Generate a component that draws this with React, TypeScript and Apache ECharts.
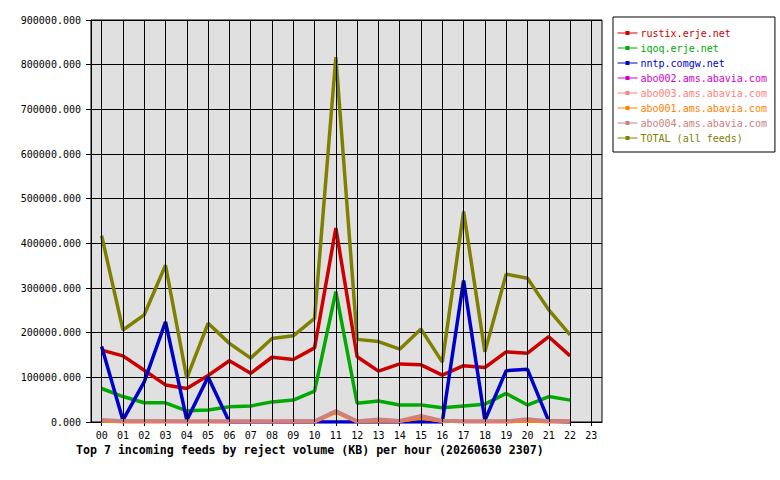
import React, { useEffect, useRef } from "react";
import * as echarts from "echarts";

const hours = ["00","01","02","03","04","05","06","07","08","09","10","11","12","13","14","15","16","17","18","19","20","21","22","23"];

const rustix = [161000,148000,116000,83000,75000,104000,137000,109000,145000,140000,166000,434000,146000,114000,130000,128000,105000,126000,122000,157000,154000,191000,148000];
const iqoq = [75000,57000,43000,43000,25000,27000,34000,36000,45000,49000,69000,292000,42000,47000,38000,38000,32000,36000,40000,64000,38000,57000,49000];
const nntp = [169000,4000,90000,224000,4000,101000,0,0,0,0,0,0,0,0,0,0,0,317000,4000,115000,118000,2000,0];
const abo002 = [3000,1000,1000,1000,1000,1000,1000,1000,1000,1000,1000,23000,1000,3000,2000,9000,2000,1000,1000,1000,2000,1000,1000];
const abo003 = [3000,1000,1000,1000,1000,1000,1000,1000,1000,1000,1000,24000,1000,4000,2000,10000,2000,1000,1000,1000,2000,1000,1000];
const abo001 = [2000,1000,1000,1000,1000,1000,1000,1000,1000,1000,1000,22000,1000,3000,2000,9000,2000,1000,1000,1000,3000,1000,1000];
const abo004 = [5000,2000,2000,2000,1000,1500,1000,1500,1000,2000,2000,25000,2000,6000,3000,14000,3000,1500,1500,2000,7000,2500,2500];
const total = [417000,206000,240000,351000,98000,221000,176000,143000,187000,193000,232000,817000,185000,180000,163000,208000,134000,471000,157000,331000,322000,251000,195000];

const names = ["rustix.erje.net","iqoq.erje.net","nntp.comgw.net","abo002.ams.abavia.com","abo003.ams.abavia.com","abo001.ams.abavia.com","abo004.ams.abavia.com","TOTAL (all feeds)"];
const colors = ["#cc0000","#00aa00","#0000cc","#cc00cc","#ff8080","#ff8000","#cc8080","#808000"];
const values = [rustix, iqoq, nntp, abo002, abo003, abo001, abo004, total];

const yTicks = { min: 0, max: 900000, interval: 100000 };
const MONO = "DejaVu Sans Mono";

export default function App() {
  const ref = useRef<HTMLDivElement>(null);
  useEffect(() => {
    const chart = echarts.init(ref.current!, null, { renderer: "svg" });
    const series: any[] = values.map((d, i) => ({
      name: names[i],
      type: "line",
      data: d,
      symbol: "rect",
      showSymbol: false,
      z: 3,
      color: colors[i],
      lineStyle: { width: 3.5, color: colors[i] },
      emphasis: { disabled: true },
    }));
    series.unshift({
      name: "grid",
      type: "line",
      data: [],
      z: 1,
      silent: true,
      markLine: {
        silent: true,
        symbol: "none",
        animation: false,
        label: { show: false },
        lineStyle: { color: "#000", width: 1, type: "solid" },
        data: hours.map((h) => ({ xAxis: h })),
      },
    });
    chart.setOption({
      animation: false,
      backgroundColor: "#fff",
      title: {
        text: "Top 7 incoming feeds by reject volume (KB) per hour (20260630 2307)",
        left: 76,
        top: 444,
        padding: 0,
        textStyle: { fontFamily: MONO, fontWeight: "bold", fontSize: 11.6, color: "#000" },
      },
      legend: {
        data: names,
        orient: "vertical",
        left: 613,
        top: 17,
        padding: [11, 8, 9, 4],
        itemGap: 5,
        itemWidth: 20,
        itemHeight: 5,
        backgroundColor: "#fff",
        borderColor: "#000",
        borderWidth: 1,
        borderRadius: 0,
        selectedMode: false,
        lineStyle: { width: 1 },
        textStyle: {
          fontFamily: MONO,
          fontSize: 10,
          lineHeight: 10,
          padding: [0, 0, 0, -2],
          rich: Object.fromEntries(
            colors.map((c, i) => [`c${i}`, { color: c, fontFamily: MONO, fontSize: 10, lineHeight: 10 }])
          ),
        },
        formatter: (n: string) => `{c${names.indexOf(n)}|${n}}`,
      },
      grid: {
        left: 91,
        right: 178,
        top: 20,
        bottom: 58,
        show: true,
        backgroundColor: "#e0e0e0",
        borderColor: "#000",
        borderWidth: 1,
        containLabel: false,
      },
      xAxis: {
        type: "category",
        data: hours,
        boundaryGap: true,
        axisLine: { lineStyle: { color: "#000", width: 1 } },
        axisTick: { show: true, alignWithLabel: true, length: 4, lineStyle: { color: "#000" } },
        axisLabel: { fontFamily: MONO, fontSize: 10, color: "#000", margin: 8, interval: 0 },
        splitLine: { show: false },
      },
      yAxis: {
        type: "value",
        min: yTicks.min,
        max: yTicks.max,
        interval: yTicks.interval,
        axisLine: { show: true, lineStyle: { color: "#000", width: 1 } },
        axisTick: { show: true, length: 5, lineStyle: { color: "#000" } },
        axisLabel: {
          fontFamily: MONO,
          fontSize: 10,
          color: "#000",
          margin: 10,
          formatter: (v: number) => v.toFixed(3),
        },
        splitLine: { show: true, lineStyle: { color: "#000", width: 1, type: "solid" } },
      },
      series,
    });
    return () => chart.dispose();
  }, []);
  return <div ref={ref} style={{ position: "fixed", left: 0, top: 0, width: 780, height: 480 }} />;
}
